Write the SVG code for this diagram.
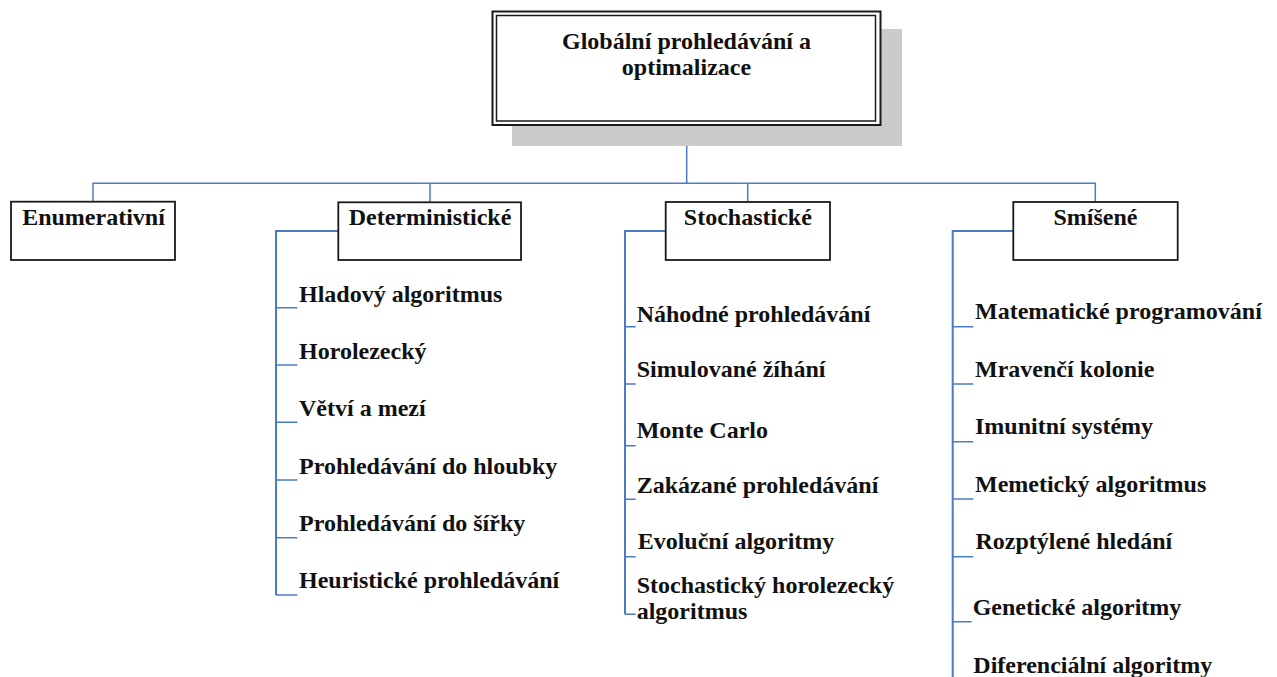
<svg xmlns="http://www.w3.org/2000/svg" width="1277" height="677" viewBox="0 0 1277 677" font-family="'Liberation Serif', 'Times New Roman', Times, serif">
<style>
text{font-family:'Liberation Serif','Times New Roman',Times,serif;font-weight:700;font-size:24px;fill:#111}
.c{text-anchor:middle}
.box{fill:#fff;stroke:#1a1a1a;stroke-width:1.8}
.ln{fill:none;stroke:#4a7cc4;stroke-width:1.5}
.br{fill:none;stroke:#4a7cc4;stroke-width:2}
</style>
<rect width="1277" height="677" fill="#fff"/>
<g id="connectors">
<path class="ln" d="M686.7 126V183.3M93 201.7V183.3H1095.3V202M430 183.3V202M747.7 183.3V202"/>
<path class="br" d="M338.3 231H276V595M665.7 231H625V614.3M1013.3 231H952.7V677"/>
<path class="ln" d="M276 307.7H297.3M276 365H297.3M276 422.3H297.3M276 480H297.3M276 537.7H297.3M276 595H297.3"/>
<path class="ln" d="M625 326.7H635.7M625 384H635.7M625 445.7H635.7M625 499.3H635.7M625 556.7H635.7M625 614.3H635.7"/>
<path class="ln" d="M952.7 326.7H973.3M952.7 384H973.3M952.7 441.7H973.3M952.7 499H973.3M952.7 556.7H973.3M952.7 621.7H971.7"/>
</g>
<g id="root">
<rect x="512" y="29" width="390" height="117" fill="#cbcbcb"/>
<rect x="492.5" y="11.5" width="388" height="113.5" fill="#fff" stroke="#1a1a1a" stroke-width="2"/>
<rect x="496.5" y="15.5" width="379" height="105.5" fill="none" stroke="#1a1a1a" stroke-width="1.5"/>
<text class="c" x="686.5" y="48.5">Globální prohledávání a</text>
<text class="c" x="686.5" y="74.5">optimalizace</text>
</g>
<g id="enumerativni">
<rect class="box" x="11" y="201.7" width="164" height="58.3"/>
<text class="c" x="93.5" y="225">Enumerativní</text>
</g>
<g id="deterministicke">
<rect class="box" x="338.3" y="202.3" width="182.7" height="57.7"/>
<text class="c" x="430" y="225">Deterministické</text>
</g>
<g id="stochasticke">
<rect class="box" x="665.7" y="202" width="164.3" height="58"/>
<text class="c" x="747.8" y="225">Stochastické</text>
</g>
<g id="smisene">
<rect class="box" x="1013.3" y="202" width="164.4" height="58"/>
<text class="c" x="1095.5" y="225">Smíšené</text>
</g>
<g id="det-items">
<text x="299" y="301.7">Hladový algoritmus</text>
<text x="299" y="359">Horolezecký</text>
<text x="299" y="416.3">Větví a mezí</text>
<text x="299" y="473.7">Prohledávání do hloubky</text>
<text x="299" y="530.7">Prohledávání do šířky</text>
<text x="299" y="588.3">Heuristické prohledávání</text>
</g>
<g id="stoch-items">
<text x="636.7" y="321.7">Náhodné prohledávání</text>
<text x="636.7" y="376.7">Simulované žíhání</text>
<text x="636.7" y="438.3">Monte Carlo</text>
<text x="636.7" y="492.7">Zakázané prohledávání</text>
<text x="637.7" y="549.3">Evoluční algoritmy</text>
<text x="636.7" y="593.3">Stochastický horolezecký</text>
<text x="636.7" y="619.3">algoritmus</text>
</g>
<g id="mix-items">
<text x="975" y="319.3">Matematické programování</text>
<text x="975" y="376.7">Mravenčí kolonie</text>
<text x="975" y="434.3">Imunitní systémy</text>
<text x="975" y="491.7">Memetický algoritmus</text>
<text x="975.5" y="549.3">Rozptýlené hledání</text>
<text x="972.7" y="614.5">Genetické algoritmy</text>
<text x="973.3" y="673">Diferenciální algoritmy</text>
</g>
</svg>
